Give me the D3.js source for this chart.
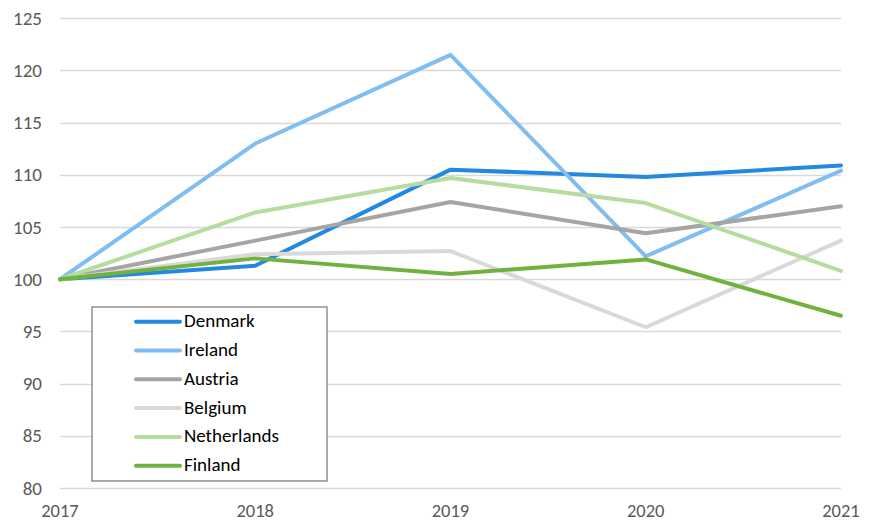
<!DOCTYPE html>
<html>
<head>
<meta charset="utf-8">
<script src="https://cdn.jsdelivr.net/npm/d3@7"></script>
<style>
  body { margin: 0; background: #fff; }
  text { font-family: Calibri, Carlito, "Open Sans", sans-serif; }
</style>
</head>
<body>
<div id="chart"></div>
<script>
var years = ["2017", "2018", "2019", "2020", "2021"];
var yTicks = [80, 85, 90, 95, 100, 105, 110, 115, 120, 125];

var countries = ["Denmark", "Ireland", "Austria", "Belgium", "Netherlands", "Finland"];
var colors = ["#2389e0", "#80bdf0", "#a5a5a5", "#d9d9d9", "#b7dca0", "#71b23e"];

var denmark = [100, 101.3, 110.5, 109.8, 110.9];
var ireland = [100, 113.0, 121.5, 102.2, 110.4];
var austria = [100, 103.7, 107.4, 104.4, 107.0];
var belgium = [100, 102.4, 102.7, 95.4, 103.7];
var netherlands = [100, 106.4, 109.7, 107.3, 100.8];
var finland = [100, 102.0, 100.5, 101.9, 96.5];

var seriesValues = [denmark, ireland, austria, belgium, netherlands, finland];

var width = 871, height = 523;

var svg = d3.select("#chart").append("svg")
    .attr("width", width)
    .attr("height", height);

var x = d3.scalePoint()
    .domain(years)
    .range([60, 841]);

var y = d3.scaleLinear()
    .domain([80, 125])
    .range([488, 18.3]);

// gridlines
svg.append("g")
    .selectAll("line")
    .data(yTicks)
    .enter().append("line")
    .attr("x1", 60)
    .attr("x2", 841)
    .attr("y1", function(d) { return Math.round(y(d)) + 0.5; })
    .attr("y2", function(d) { return Math.round(y(d)) + 0.5; })
    .attr("stroke", "#d9d9d9")
    .attr("stroke-width", 1.3);

// y tick labels
svg.append("g")
    .selectAll("text")
    .data(yTicks)
    .enter().append("text")
    .attr("x", 42)
    .attr("y", function(d) { return y(d) + 6.5; })
    .attr("text-anchor", "end")
    .attr("fill", "#595959")
    .style("font-size", "19px")
    .text(function(d) { return d; });

// x labels
svg.append("g")
    .selectAll("text")
    .data(years)
    .enter().append("text")
    .attr("x", function(d) { return x(d); })
    .attr("y", 517)
    .attr("text-anchor", "middle")
    .attr("fill", "#595959")
    .style("font-size", "18.5px")
    .text(function(d) { return d; });

var line = d3.line()
    .x(function(d, i) { return x(years[i]); })
    .y(function(d) { return y(d); });

svg.append("g")
    .selectAll("path")
    .data(seriesValues)
    .enter().append("path")
    .attr("d", line)
    .attr("fill", "none")
    .attr("stroke", function(d, i) { return colors[i]; })
    .attr("stroke-width", 4)
    .attr("stroke-linejoin", "round")
    .attr("stroke-linecap", "round");

// legend
var legend = svg.append("g");
legend.append("rect")
    .attr("x", 92)
    .attr("y", 307)
    .attr("width", 235)
    .attr("height", 174)
    .attr("fill", "#fff")
    .attr("stroke", "#7f7f7f")
    .attr("stroke-width", 1.3);

var rows = legend.selectAll("g.row")
    .data(countries)
    .enter().append("g")
    .attr("class", "row")
    .attr("transform", function(d, i) { return "translate(0," + (321.7 + i * 28.8) + ")"; });

rows.append("line")
    .attr("x1", 136)
    .attr("x2", 180)
    .attr("stroke", function(d, i) { return colors[i]; })
    .attr("stroke-width", 4)
    .attr("stroke-linecap", "round");

rows.append("text")
    .attr("x", 184)
    .attr("y", 5.5)
    .attr("fill", "#000")
    .style("font-size", "19px")
    .text(function(d) { return d; });
</script>
</body>
</html>
